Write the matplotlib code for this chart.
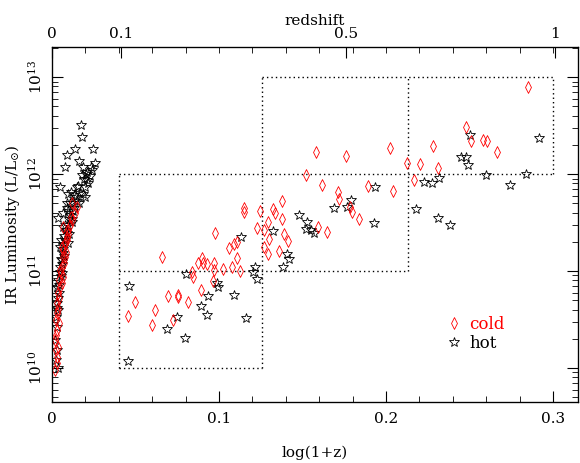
import numpy as np
import matplotlib
matplotlib.use("Agg")
import matplotlib.pyplot as plt
from matplotlib.path import Path
from matplotlib.ticker import MultipleLocator, FixedLocator, LogLocator, NullFormatter

# ---------------- data (x = log(1+z), y = log10 L_IR) ----------------
cold_x = [0.0660, 0.0497, 0.0453, 0.0617, 0.0597, 0.0696, 0.0753, 0.0756, 0.0723, 0.0813,
          0.0837, 0.0846, 0.0876, 0.0900, 0.0902, 0.0926, 0.0892, 0.0972, 0.0972, 0.0976,
          0.0966, 0.1022, 0.1060, 0.1092, 0.1106, 0.1106, 0.1076, 0.1126, 0.1151, 0.1151,
          0.1229, 0.1246, 0.1269, 0.1295, 0.1301, 0.1269, 0.1295, 0.1325, 0.1335, 0.1379,
          0.1379, 0.1391, 0.1411, 0.1361, 0.1581, 0.1521, 0.1615, 0.1759, 0.1714, 0.1719,
          0.1784, 0.1798, 0.1837, 0.1595, 0.1645, 0.1894, 0.2024, 0.2040, 0.2128, 0.2168,
          0.2204, 0.2281, 0.2311, 0.2479, 0.2509, 0.2583, 0.2603, 0.2663, 0.2852,
          # low redshift sample
          0.0148, 0.0138, 0.0118, 0.0098, 0.0088, 0.0078, 0.0068, 0.0064, 0.0058, 0.0052,
          0.0044, 0.0048, 0.0038, 0.0032, 0.0028, 0.0024, 0.0028, 0.0018, 0.0024, 0.0028,
          0.0018, 0.0038, 0.0044, 0.0068, 0.0108, 0.0088, 0.0058, 0.0078, 0.0048, 0.0064,
          0.0112, 0.0094, 0.0072, 0.0034, 0.0022, 0.0120, 0.0082, 0.0060, 0.0042, 0.0030]
cold_L = [11.147, 10.677, 10.536, 10.598, 10.443, 10.742, 10.753, 10.735, 10.495, 10.680,
          10.993, 10.935, 11.086, 11.137, 11.079, 11.072, 10.804, 11.086, 11.010, 11.389,
          10.894, 11.018, 11.234, 11.275, 11.296, 11.137, 11.044, 11.003, 11.646, 11.611,
          11.440, 11.622, 11.423, 11.508, 11.333, 11.251, 11.172, 11.637, 11.601, 11.722,
          11.533, 11.378, 11.309, 11.206, 12.224, 11.990, 11.887, 12.189, 11.818, 11.739,
          11.663, 11.605, 11.536, 11.457, 11.405, 11.876, 12.271, 11.825, 12.110, 11.938,
          12.100, 12.289, 12.059, 12.488, 12.340, 12.351, 12.343, 12.230, 12.900,
          11.663, 11.595, 11.526, 11.423, 11.354, 11.285, 11.216, 11.147, 11.044, 10.976,
          10.907, 10.838, 10.770, 10.667, 10.563, 10.495, 10.392, 10.289, 10.186, 10.117,
          9.979, 10.220, 10.461, 11.457, 11.474, 11.320, 11.251, 11.147, 11.010, 10.941,
          11.560, 11.380, 11.080, 10.610, 10.340, 11.700, 11.200, 10.880, 10.720, 10.050]

hot_x = [0.0463, 0.0457, 0.0687, 0.0750, 0.0796, 0.0802, 0.0892, 0.0930, 0.0936, 0.0986,
         0.0996, 0.1090, 0.1162, 0.1130, 0.1216, 0.1205, 0.1229, 0.1325, 0.1381, 0.1409,
         0.1419, 0.1481, 0.1529, 0.1519, 0.1551, 0.1571, 0.1690, 0.1765, 0.1790, 0.1934,
         0.1930, 0.2178, 0.2228, 0.2274, 0.2319, 0.2313, 0.2383, 0.2447, 0.2479, 0.2503,
         0.2493, 0.2599, 0.2743, 0.2837, 0.2914,
         # low redshift sample
         0.0174, 0.0182, 0.0244, 0.0138, 0.0088, 0.0162, 0.0257, 0.0078, 0.0178, 0.0232,
         0.0048, 0.0208, 0.0198, 0.0184, 0.0114, 0.0098, 0.0144, 0.0128, 0.0163, 0.0088,
         0.0038, 0.0108, 0.0068, 0.0088, 0.0078, 0.0098, 0.0048, 0.0068, 0.0058, 0.0048,
         0.0058, 0.0038, 0.0032, 0.0044, 0.0028, 0.0038, 0.0024, 0.0032, 0.0018, 0.0028,
         0.0024, 0.0038, 0.0068, 0.0148, 0.0132, 0.0212, 0.0188, 0.0218, 0.0088, 0.0118,
         0.0098, 0.0054, 0.0152, 0.0170, 0.0196, 0.0226, 0.0124, 0.0104, 0.0084, 0.0074,
         0.0064, 0.0070, 0.0060, 0.0052, 0.0080, 0.0094, 0.0110, 0.0134, 0.0156, 0.0190,
         0.0204, 0.0240, 0.0040, 0.0046, 0.0056, 0.0036, 0.0030, 0.0066, 0.0100, 0.0120]
hot_L = [10.845, 10.072, 10.399, 10.529, 10.312, 10.966, 10.639, 10.546, 10.742, 10.873,
         10.838, 10.753, 10.519, 11.348, 11.038, 10.993, 10.914, 11.415, 11.038, 11.172,
         11.121, 11.577, 11.502, 11.430, 11.423, 11.389, 11.646, 11.663, 11.732, 11.863,
         11.492, 11.636, 11.914, 11.904, 11.956, 11.543, 11.474, 12.179, 12.179, 12.402,
         12.093, 11.990, 11.887, 11.997, 12.368,
         12.505, 12.385, 12.255, 12.255, 12.196, 12.134, 12.116, 12.069, 11.990, 12.076,
         11.869, 11.938, 11.869, 11.791, 11.818, 11.794, 11.766, 11.704, 11.704, 11.646,
         11.543, 11.577, 11.457, 11.389, 11.320, 11.285, 11.251, 11.182, 11.113, 11.044,
         10.976, 10.907, 10.838, 10.770, 10.667, 10.598, 10.529, 10.426, 10.289, 10.186,
         10.082, 9.997, 11.595, 11.869, 11.646, 12.024, 12.076, 11.904, 11.698, 11.508,
         11.474, 11.320, 11.720, 11.800, 11.760, 11.980, 11.620, 11.540, 11.420, 11.360,
         11.230, 11.160, 11.070, 10.950, 11.480, 11.620, 11.700, 11.780, 11.880, 11.950,
         12.000, 12.040, 10.860, 10.990, 11.120, 10.720, 10.620, 11.280, 11.380, 11.540]

# survey boxes (log(1+z) edges and luminosity edges)
box_x = [0.040, 0.126, 0.213, 0.300]
box_L = [1e10, 1e11, 1e12, 1e13]

top_z_ticks = [0, 0.1, 0.5, 1]
top_z_labels = ["0", "0.1", "0.5", "1"]

# ---------------- figure ----------------
plt.rcParams['font.family'] = ['DejaVu Serif']
plt.rcParams['mathtext.fontset'] = 'dejavuserif'

fig = plt.figure(figsize=(5.8, 4.63), dpi=100)
ax = fig.add_axes([52/580, 61/463, 526/580, 355/463])

diamond = Path([(0, 1), (0.5, 0), (0, -1), (-0.5, 0), (0, 1)],
               [Path.MOVETO, Path.LINETO, Path.LINETO, Path.LINETO, Path.CLOSEPOLY])

ax.plot(hot_x, 10**np.array(hot_L), linestyle='none', marker='*', ms=7,
        mfc='none', mec='black', mew=0.6, zorder=3)
ax.plot(cold_x, 10**np.array(cold_L), linestyle='none', marker=diamond, ms=8.5,
        mfc='none', mec='red', mew=0.6, zorder=4)

dot = dict(color='black', linestyle=(0, (1, 2.2)), linewidth=1.0, zorder=2)
x0, x1, x2, x3 = box_x
L0, L1, L2, L3 = box_L
ax.plot([x0, x1], [L0, L0], **dot)
ax.plot([x0, x2], [L1, L1], **dot)
ax.plot([x0, x3], [L2, L2], **dot)
ax.plot([x1, x3], [L3, L3], **dot)
ax.plot([x0, x0], [L0, L2], **dot)
ax.plot([x1, x1], [L0, L3], **dot)
ax.plot([x2, x2], [L1, L3], **dot)
ax.plot([x3, x3], [L2, L3], **dot)

ax.set_yscale('log')
ax.set_xlim(0, 0.315)
ax.set_ylim(10**9.65, 10**13.31)

ax.xaxis.set_major_locator(MultipleLocator(0.1))
ax.xaxis.set_minor_locator(MultipleLocator(0.02))
ax.set_xticks([0, 0.1, 0.2, 0.3])
ax.set_xticklabels(["0", "0.1", "0.2", "0.3"])
ax.yaxis.set_major_locator(FixedLocator([1e10, 1e11, 1e12, 1e13]))
ax.set_yticklabels([r"10$^{10}$", r"10$^{11}$", r"10$^{12}$", r"10$^{13}$"],
                   rotation=90, va='center')
ax.yaxis.set_minor_locator(LogLocator(base=10, subs=np.arange(2, 10), numticks=20))
ax.yaxis.set_minor_formatter(NullFormatter())

ax.tick_params(which='both', direction='in', labelsize=11, right=True, top=False)
ax.tick_params(which='major', length=8, width=0.8)
ax.tick_params(which='minor', length=4, width=0.6)
ax.tick_params(axis='x', pad=7)
ax.tick_params(axis='y', pad=5)
for s in ax.spines.values():
    s.set_linewidth(0.9)

ax.set_xlabel("log(1+z)", fontsize=11, labelpad=14)
ax.set_ylabel(r"IR Luminosity (L/L$_{\odot}$)", fontsize=11, labelpad=4)

# top redshift axis
axt = ax.twiny()
axt.set_xlim(ax.get_xlim())
axt.xaxis.set_major_locator(FixedLocator(np.log10(1 + np.array(top_z_ticks))))
axt.set_xticklabels(top_z_labels)
axt.xaxis.set_minor_locator(MultipleLocator(0.02))
axt.tick_params(which='both', direction='in', labelsize=11, pad=4)
axt.tick_params(which='major', length=8, width=0.8)
axt.tick_params(which='minor', length=4, width=0.6)
axt.set_xlabel("redshift", fontsize=11, labelpad=2)

# legend
h1, = ax.plot([], [], linestyle='none', marker=diamond, ms=8.5, mfc='none', mec='red', mew=0.6)
h2, = ax.plot([], [], linestyle='none', marker='*', ms=7, mfc='none', mec='black', mew=0.6)
leg = ax.legend([h1, h2], ["cold", "hot"], loc='upper left', bbox_to_anchor=(0.73, 0.265),
                frameon=False, fontsize=12, handletextpad=0.3, labelspacing=0.1,
                handlelength=1.2, borderpad=0)
leg.get_texts()[0].set_color('red')
leg.get_texts()[1].set_color('black')

fig.savefig("out.png", dpi=100)
